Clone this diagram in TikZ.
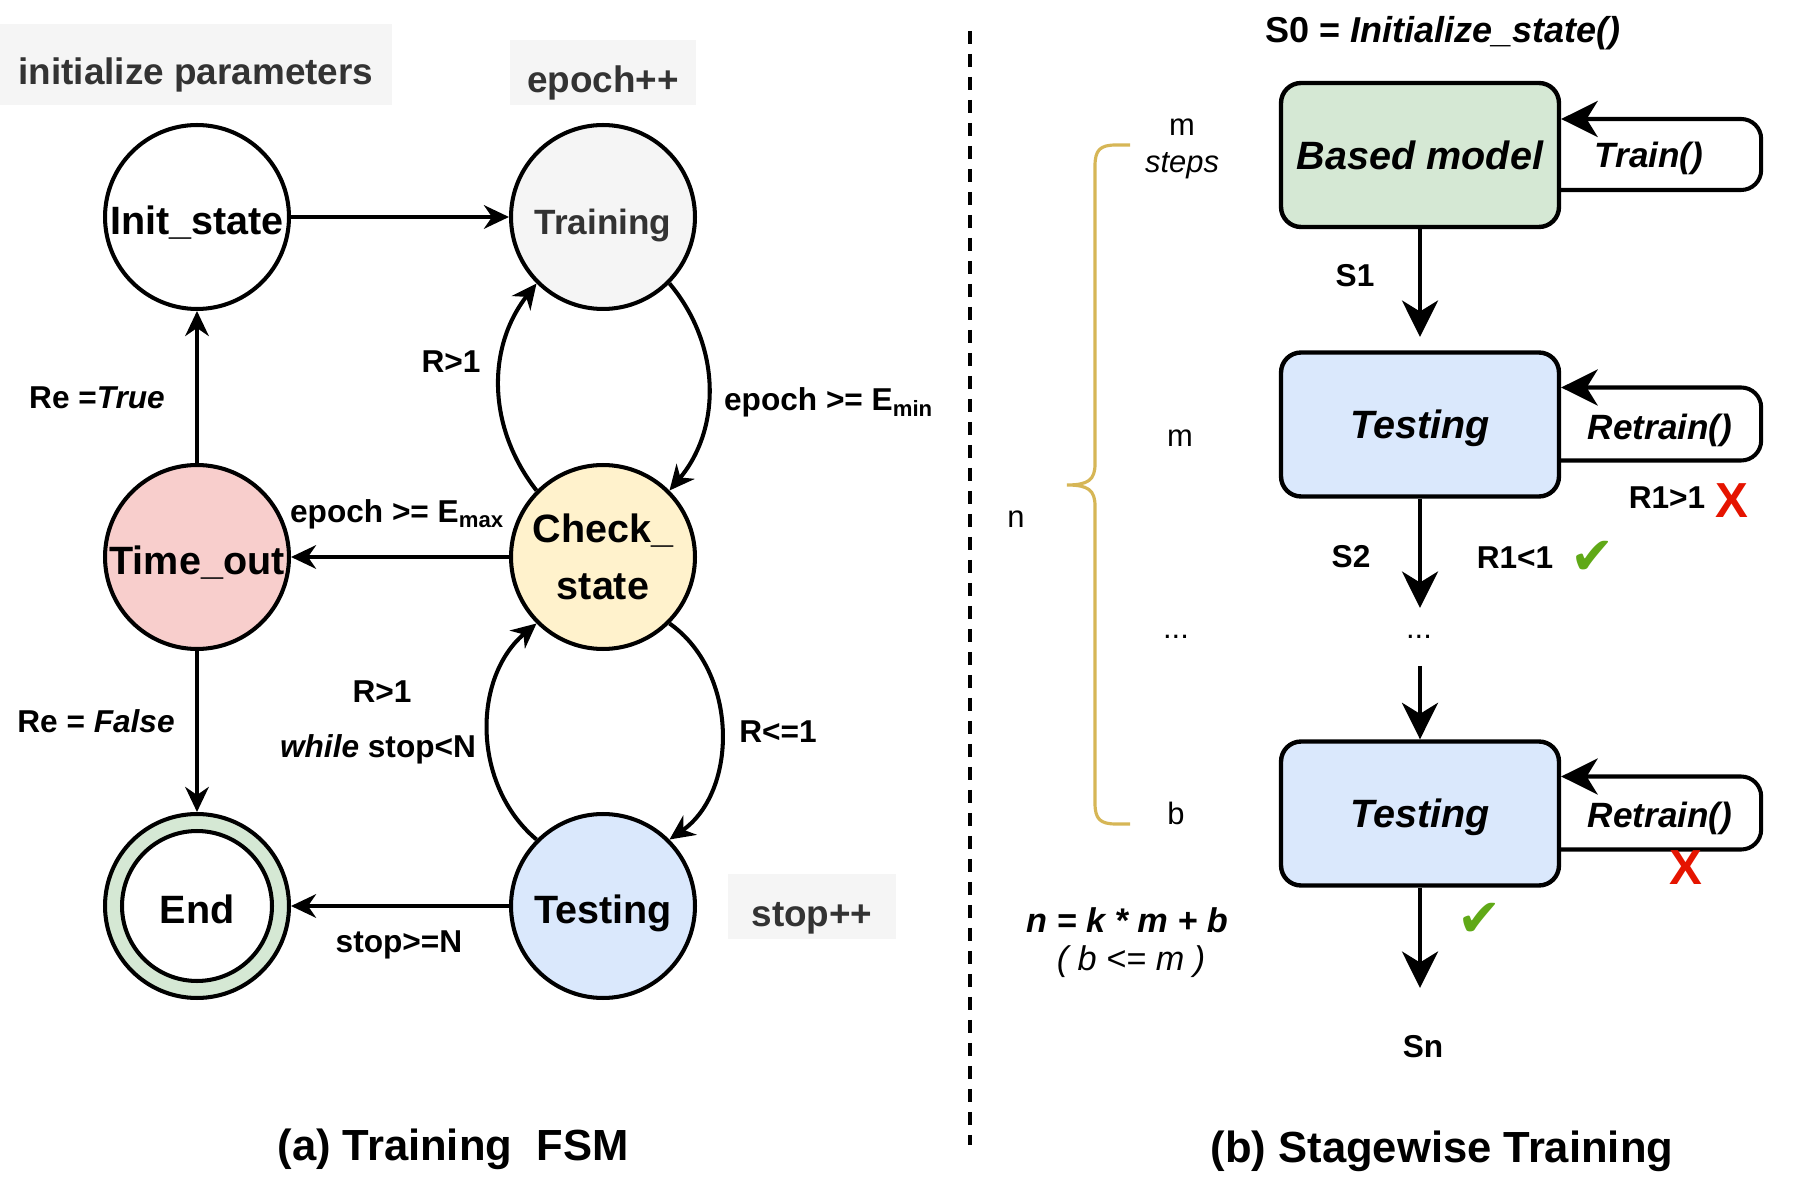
\documentclass[tikz,border=0pt]{standalone}
\usepackage{fontspec}
\setmainfont{Liberation Sans}
\newfontfamily\symfont{DejaVu Sans}
\usepackage{tikz}
\usetikzlibrary{calc,arrows.meta,positioning}
\definecolor{notegray}{HTML}{F5F5F5}
\definecolor{textgray}{HTML}{333333}
\definecolor{outred}{HTML}{F8CECC}
\definecolor{chkyellow}{HTML}{FFF2CC}
\definecolor{endgreen}{HTML}{D5E8D4}
\definecolor{testblue}{HTML}{DAE8FC}
\definecolor{bracegold}{HTML}{D6B656}
\definecolor{crossred}{HTML}{E51400}
\definecolor{tickgreen}{HTML}{60A917}

\begin{document}
\begin{tikzpicture}[x=0.02cm,y=-0.02cm,
  fsm/.style={circle,draw,line width=2.3pt,minimum size=3.68cm,inner sep=0pt,align=center,font=\fontsize{22.5}{32.4}\selectfont\bfseries},
  fsmone/.style={fsm,text height=19.4pt,text depth=0pt},
  note/.style={fill=notegray,text=textgray,inner sep=0pt,text height=22.3pt,text depth=0pt,font=\fontsize{21}{25}\selectfont\bfseries},
  lbl/.style={inner sep=1pt,font=\fontsize{18}{22}\selectfont\bfseries},
  txt/.style={inner sep=1pt,align=center,font=\fontsize{17.6}{21}\selectfont},
  blk/.style={draw,rounded corners=0.4cm,line width=2.5pt,minimum width=5.56cm,minimum height=2.88cm,text height=16.2pt,text depth=0pt,font=\fontsize{22.5}{27}\selectfont\bfseries\itshape},
  call/.style={inner sep=1pt,text height=14.6pt,text depth=0pt,font=\fontsize{20}{24}\selectfont\bfseries\itshape},
  ttl/.style={font=\fontsize{24.8}{28}\selectfont\bfseries},
  redx/.style={text=crossred,inner sep=0pt,font=\fontsize{28}{30}\selectfont\bfseries},
  okmark/.style={text=tickgreen,inner sep=0pt,font=\symfont\fontsize{30}{32}\selectfont},
  arr/.style={line width=2.3pt,-{Stealth[length=0.5cm,width=0.47cm,inset=0.16cm]}},
  bigarr/.style={line width=2.3pt,-{Stealth[length=0.73cm,width=0.72cm,inset=0.22cm]}},
  selfarr/.style={bigarr,rounded corners=0.4cm}]
\useasboundingbox (0,0) rectangle (1796,1192);

% (a) training FSM
\node[note,minimum width=7.84cm,minimum height=1.62cm] (initp) at (196,64.5) {initialize parameters};
\node[note,minimum width=3.72cm,minimum height=1.3cm] (epochpp) at (603,72.5) {epoch++};
\node[note,minimum width=3.36cm,minimum height=1.3cm] (stoppp) at (812,906.5) {stop++};

\node[fsmone] (init) at (197,217) {Init\_state};
\node[fsmone,fill=notegray,text=textgray,font=\fontsize{20}{24}\selectfont\bfseries] (train) at (603,217) {Training};
\node[fsmone,fill=outred] (tout) at (197,557) {Time\_out};
\node[fsm,fill=chkyellow] (check) at (603,557) {Check\_\\state};
\node[fsm,fill=endgreen] (fin) at (197,906) {};
\node[fsmone,fill=white,minimum size=3cm] (finin) at (197,906) {End};
\node[fsmone,fill=testblue] (test) at (603,906) {Testing};

\draw[arr] (init) -- (train);
\draw[arr] (train.-45) to[bend left=40] (check.45);
\draw[arr] (check.135) to[bend left=38] (train.-135);
\draw[arr] (check) -- (tout);
\draw[arr] (tout) -- (init);
\draw[arr] (tout) -- (fin);
\draw[arr] (check.-45) to[bend left=55] (test.45);
\draw[arr] (test.135) to[bend left=50] (check.-135);
\draw[arr] (test) -- (fin);

\node[lbl] (lr1) at (451,362) {R>1};
\node[lbl,anchor=base west] (lemin) at (722,411) {epoch >= E\textsubscript{min}};
\node[lbl,anchor=base west] (lemax) at (288,523) {epoch >= E\textsubscript{max}};
\node[lbl] (lret) at (97,398) {Re =\textit{True}};
\node[lbl] (lref) at (96,721) {Re = \textit{False}};
\node[lbl] (lr2) at (382,692) {R>1};
\node[lbl] (lwh) at (378,749) {\textit{while} stop<N};
\node[lbl] (lrle) at (778,732) {R<=1};
\node[lbl] (lstop) at (399,945) {stop>=N};
\node[ttl] (tta) at (453,1149) {(a) Training\ \ FSM};

% divider
\coordinate (dtop) at (970,31);
\coordinate (dbot) at (970,1145);
\draw[line width=2pt,dash pattern=on 0.26cm off 0.2cm] (dtop) -- (dbot);

% (b) stagewise training
\node[font=\fontsize{20.5}{24}\selectfont\bfseries] (s0) at (1443,33) {S0 = \textit{Initialize\_state()}};
\node[blk,fill=endgreen] (base) at (1420,155) {Based model};
\node[blk,fill=testblue] (tst1) at (1420,424.5) {Testing};
\node[blk,fill=testblue] (tst2) at (1420,813.5) {Testing};

\coordinate (s1end) at (1420,337);
\coordinate (s2end) at (1420,608);
\node[txt] (dotsm) at (1419,637) {...};
\coordinate (dotsout) at (1420,666);
\coordinate (snend) at (1420,988);
\node[lbl] (lsn) at (1423,1047) {Sn};

\draw[bigarr] (base) -- (s1end);
\draw[bigarr] (tst1) -- (s2end);
\draw[bigarr] (dotsout) -- (tst2);
\draw[bigarr] (tst2) -- (snend);

\draw[selfarr] ($(base.east)+(0,35)$) -- ++(200,0) -- ++(0,-71) -- ($(base.east)+(0,-36)$);
\draw[selfarr] ($(tst1.east)+(0,36)$) -- ++(200,0) -- ++(0,-73) -- ($(tst1.east)+(0,-37)$);
\draw[selfarr] ($(tst2.east)+(0,36)$) -- ++(200,0) -- ++(0,-73) -- ($(tst2.east)+(0,-37)$);
\node[call] (trn) at (1649,155) {Train()};
\node[call] (rtr1) at (1660,427) {Retrain()};
\node[call] (rtr2) at (1660,815) {Retrain()};

\node[lbl] (ls1) at (1355,276) {S1};
\node[lbl] (ls2) at (1351,557) {S2};
\node[lbl] (lbad) at (1667,498) {R1>1};
\node[redx] (x1) at (1732,501) {X};
\node[lbl] (lgood) at (1515,558) {R1<1};
\node[okmark] (ok1) at (1593,558) {✔};
\node[redx] (x2) at (1686,868) {X};
\node[okmark] (ok2) at (1480,920) {✔};

% brace and counts
\draw[line width=1.8pt,bracegold] (1130,145) -- (1116,145) .. controls (1100,145) and (1095,150) .. (1095,166) -- (1095,464) .. controls (1095,480) and (1088,485) .. (1067,485) .. controls (1088,485) and (1095,490) .. (1095,506) -- (1095,803) .. controls (1095,819) and (1100,824) .. (1116,824) -- (1130,824);
\node[txt] (msteps) at (1182,149) {m\\\textit{steps}};
\node[txt] (m2) at (1180,438) {m};
\node[txt] (dotsl) at (1176,637) {...};
\node[txt] (bb) at (1176,813) {b};
\node[txt] (nn) at (1016,519) {n};
\node[font=\fontsize{19.5}{22}\selectfont\bfseries\itshape] (neq) at (1127,920) {n = k * m + b};
\node[txt,font=\fontsize{19.5}{22}\selectfont\itshape] (bcond) at (1131,962) {( b <= m )};
\node[ttl] (ttb) at (1442,1151) {(b) Stagewise Training};
\end{tikzpicture}
\end{document}
